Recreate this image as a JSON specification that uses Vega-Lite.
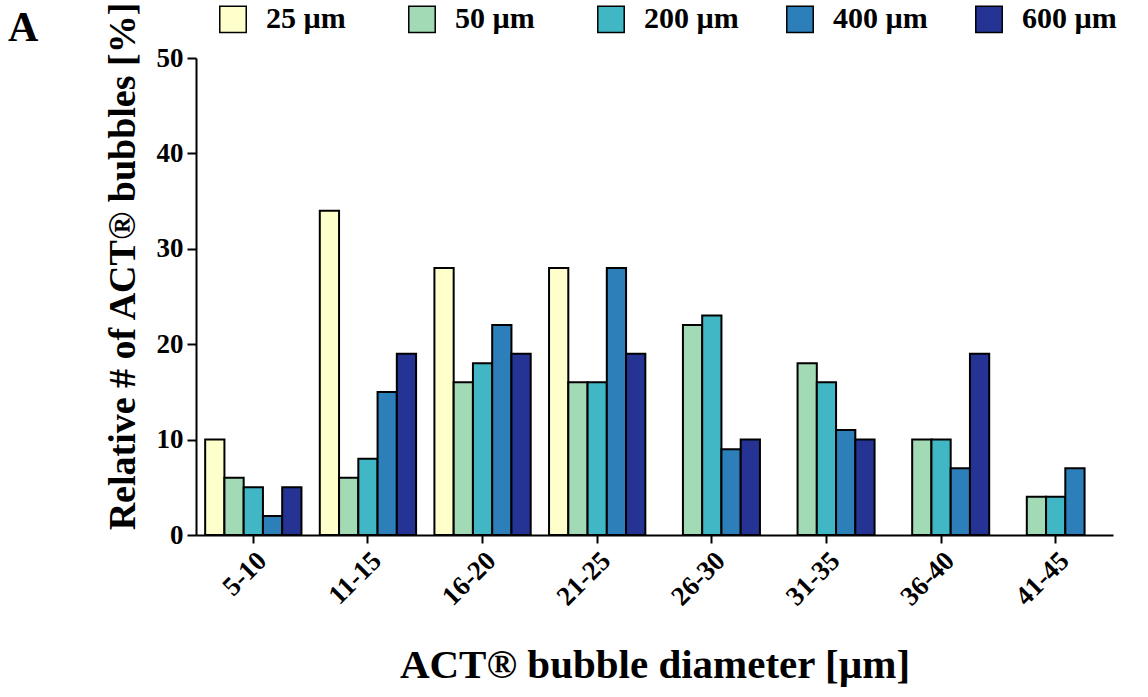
{
  "$schema": "https://vega.github.io/schema/vega-lite/v6.json",
  "width": 917,
  "height": 477,
  "autosize": {"type": "none"},
  "padding": {"left": 196, "top": 58, "right": 35, "bottom": 162},
  "background": "white",
  "config": {"font": "Liberation Serif", "view": {"stroke": null}},
  "title": {"text": "A", "anchor": "start", "frame": "group", "fontSize": 42, "fontWeight": "bold", "font": "Liberation Serif", "color": "black", "dx": -188, "dy": 53},
  "data": {"values": [
    {"range": "5-10", "size": "25 µm", "pct": 10},
    {"range": "5-10", "size": "50 µm", "pct": 6},
    {"range": "5-10", "size": "200 µm", "pct": 5},
    {"range": "5-10", "size": "400 µm", "pct": 2},
    {"range": "5-10", "size": "600 µm", "pct": 5},
    {"range": "11-15", "size": "25 µm", "pct": 34},
    {"range": "11-15", "size": "50 µm", "pct": 6},
    {"range": "11-15", "size": "200 µm", "pct": 8},
    {"range": "11-15", "size": "400 µm", "pct": 15},
    {"range": "11-15", "size": "600 µm", "pct": 19},
    {"range": "16-20", "size": "25 µm", "pct": 28},
    {"range": "16-20", "size": "50 µm", "pct": 16},
    {"range": "16-20", "size": "200 µm", "pct": 18},
    {"range": "16-20", "size": "400 µm", "pct": 22},
    {"range": "16-20", "size": "600 µm", "pct": 19},
    {"range": "21-25", "size": "25 µm", "pct": 28},
    {"range": "21-25", "size": "50 µm", "pct": 16},
    {"range": "21-25", "size": "200 µm", "pct": 16},
    {"range": "21-25", "size": "400 µm", "pct": 28},
    {"range": "21-25", "size": "600 µm", "pct": 19},
    {"range": "26-30", "size": "50 µm", "pct": 22},
    {"range": "26-30", "size": "200 µm", "pct": 23},
    {"range": "26-30", "size": "400 µm", "pct": 9},
    {"range": "26-30", "size": "600 µm", "pct": 10},
    {"range": "31-35", "size": "50 µm", "pct": 18},
    {"range": "31-35", "size": "200 µm", "pct": 16},
    {"range": "31-35", "size": "400 µm", "pct": 11},
    {"range": "31-35", "size": "600 µm", "pct": 10},
    {"range": "36-40", "size": "50 µm", "pct": 10},
    {"range": "36-40", "size": "200 µm", "pct": 10},
    {"range": "36-40", "size": "400 µm", "pct": 7},
    {"range": "36-40", "size": "600 µm", "pct": 19},
    {"range": "41-45", "size": "50 µm", "pct": 4},
    {"range": "41-45", "size": "200 µm", "pct": 4},
    {"range": "41-45", "size": "400 µm", "pct": 7}
  ]},
  "mark": {"type": "bar", "stroke": "black", "strokeWidth": 2},
  "encoding": {
    "x": {
      "field": "range", "type": "nominal",
      "sort": ["5-10", "11-15", "16-20", "21-25", "26-30", "31-35", "36-40", "41-45"],
      "scale": {"paddingInner": 0.16, "paddingOuter": 0.08},
      "axis": {
        "title": "ACT® bubble diameter [µm]",
        "titleFont": "Liberation Serif", "titleFontSize": 41, "titleFontWeight": "bold", "titleColor": "black", "titlePadding": 36,
        "labelFont": "Liberation Serif", "labelFontSize": 27, "labelFontWeight": "bold", "labelColor": "black",
        "labelAngle": -45, "labelAlign": "right", "labelBaseline": "top", "labelPadding": 4,
        "domainColor": "black", "domainWidth": 2, "tickColor": "black", "tickWidth": 2, "tickSize": 8
      }
    },
    "xOffset": {
      "field": "size", "type": "nominal",
      "sort": ["25 µm", "50 µm", "200 µm", "400 µm", "600 µm"],
      "scale": {"paddingInner": 0, "paddingOuter": 0}
    },
    "y": {
      "field": "pct", "type": "quantitative",
      "scale": {"domain": [0, 50], "nice": false},
      "axis": {
        "title": "Relative # of ACT® bubbles [%]",
        "values": [0, 10, 20, 30, 40, 50],
        "grid": false,
        "titleFont": "Liberation Serif", "titleFontSize": 38, "titleFontWeight": "bold", "titleColor": "black", "titlePadding": 14, "titleY": 208,
        "labelFont": "Liberation Serif", "labelFontSize": 27, "labelFontWeight": "bold", "labelColor": "black", "labelPadding": 4,
        "domainColor": "black", "domainWidth": 2, "tickColor": "black", "tickWidth": 2, "tickSize": 9
      }
    },
    "color": {
      "field": "size", "type": "nominal",
      "sort": ["25 µm", "50 µm", "200 µm", "400 µm", "600 µm"],
      "scale": {"domain": ["25 µm", "50 µm", "200 µm", "400 µm", "600 µm"], "range": ["#ffffcc", "#a1dab4", "#41b6c4", "#2c7fb8", "#253494"]},
      "legend": {
        "orient": "none", "legendX": 22, "legendY": -54, "direction": "horizontal", "columns": 5,
        "title": null, "symbolType": "square", "symbolSize": 700, "symbolStrokeColor": "black", "symbolStrokeWidth": 1.5, "symbolOpacity": 1,
        "labelFont": "Liberation Serif", "labelFontSize": 30, "labelFontWeight": "bold", "labelColor": "black", "labelOffset": 18,
        "columnPadding": 44, "gridAlign": "all"
      }
    }
  }
}
